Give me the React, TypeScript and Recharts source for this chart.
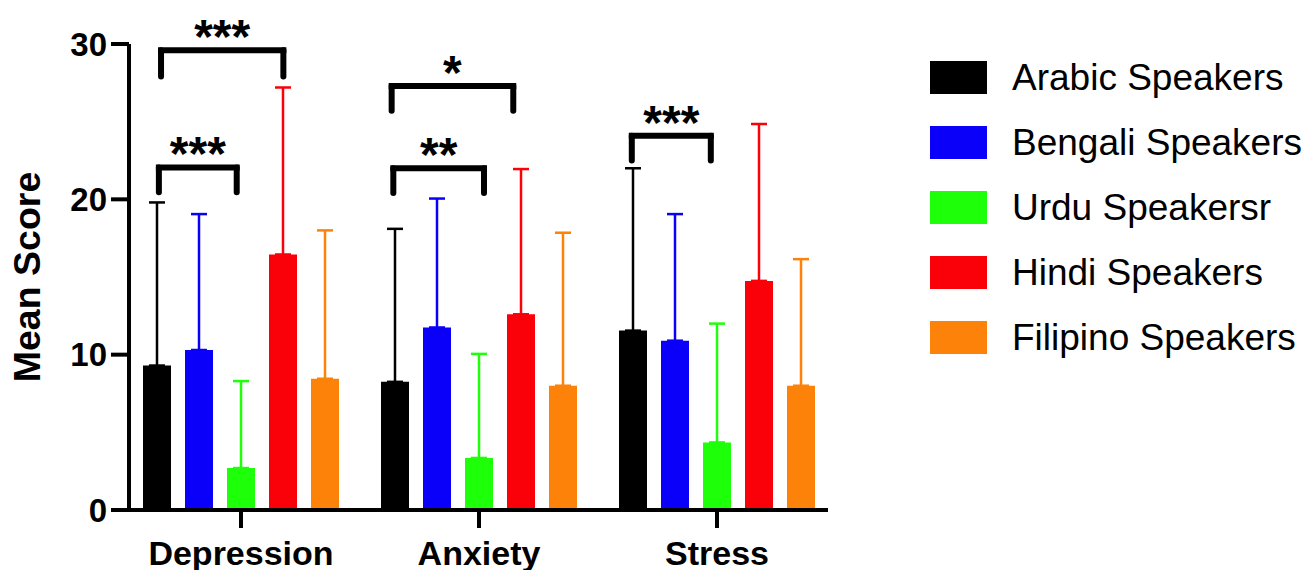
import { Bar, BarChart, ErrorBar, Legend, ReferenceDot, ReferenceLine, XAxis, YAxis } from "recharts";

const categories = ["Depression", "Anxiety", "Stress"];
const groups = ["Arabic Speakers", "Bengali Speakers", "Urdu Speakersr", "Hindi Speakers", "Filipino Speakers"];
const colors = ["#000000", "#0a00fa", "#1eff0a", "#fa0008", "#fc820a"];

// mean score and upper SD per group, in category order
const arabicMean = [9.3, 8.25, 11.55];
const arabicSd = [10.5, 9.85, 10.45];
const bengaliMean = [10.3, 11.75, 10.9];
const bengaliSd = [8.75, 8.3, 8.15];
const urduMean = [2.7, 3.35, 4.35];
const urduSd = [5.6, 6.7, 7.65];
const hindiMean = [16.45, 12.6, 14.75];
const hindiSd = [10.75, 9.35, 10.1];
const filipinoMean = [8.45, 8.0, 8.0];
const filipinoSd = [9.55, 9.85, 8.15];

const yTicks = [0, 10, 20, 30];

// significance brackets; x in category units (0 = Depression centre)
const bracketFrom = [-0.336, -0.345, 0.633, 0.64, 1.642];
const bracketTo = [0.178, -0.018, 1.144, 1.021, 1.974];
const bracketTop = [29.6, 22.05, 27.3, 22.0, 24.1];
const bracketFoot = [27.9, 20.45, 25.7, 20.4, 22.5];
const bracketLabel = ["***", "***", "*", "**", "***"];

const means = [arabicMean, bengaliMean, urduMean, hindiMean, filipinoMean];
const sds = [arabicSd, bengaliSd, urduSd, hindiSd, filipinoSd];

const data = categories.map((cat, i) => {
  const row: Record<string, unknown> = { cat, idx: i };
  means.forEach((m, k) => {
    row[`m${k}`] = m[i];
    row[`e${k}`] = [0, sds[k][i]];
  });
  return row;
});

const FONT = "'Liberation Sans', Arial, sans-serif";

function LegendBox() {
  return (
    <div style={{ fontFamily: FONT }}>
      {groups.map((g, k) => (
        <div key={g} style={{ display: "flex", alignItems: "center", height: 65 }}>
          <div style={{ width: 57, height: 33, background: colors[k], flex: "none" }} />
          <span style={{ marginLeft: 25, fontSize: 37, color: "#000", whiteSpace: "nowrap" }}>{g}</span>
        </div>
      ))}
    </div>
  );
}

export default function App() {
  return (
    <div>
      <style>{"body{margin:0;background:#fff}"}</style>
      <BarChart
        width={1307}
        height={570}
        data={data}
        margin={{ top: 44, right: 479, bottom: 0, left: 0 }}
        barGap={14}
      >
        <XAxis
          dataKey="cat"
          interval={0}
          height={60}
          padding={{ left: -7, right: -8 }}
          tickSize={18}
          tickMargin={13}
          axisLine={{ stroke: "#000", strokeWidth: 4 }}
          tickLine={{ stroke: "#000", strokeWidth: 4 }}
          tick={{ fill: "#000", fontSize: 34, fontWeight: 700, fontFamily: FONT }}
        />
        <XAxis
          xAxisId="pos"
          dataKey="idx"
          type="number"
          domain={[-0.5, 2.5]}
          allowDataOverflow
          padding={{ left: -7, right: -8 }}
          hide
        />
        <YAxis
          domain={[0, 30]}
          ticks={yTicks}
          width={129}
          tickSize={18}
          tickMargin={4}
          axisLine={{ stroke: "#000", strokeWidth: 4 }}
          tickLine={{ stroke: "#000", strokeWidth: 4 }}
          tick={{ fill: "#000", fontSize: 33, fontWeight: 700, fontFamily: FONT }}
          label={{
            value: "Mean Score",
            angle: -90,
            position: "center",
            dx: -38,
            style: { fill: "#000", fontSize: 37.5, fontWeight: 700, fontFamily: FONT },
          }}
        />
        {groups.map((g, k) => (
          <Bar key={g} dataKey={`m${k}`} name={g} fill={colors[k]} barSize={28} isAnimationActive={false}>
            <ErrorBar dataKey={`e${k}`} width={8} stroke={colors[k]} strokeWidth={2.5} isAnimationActive={false} />
          </Bar>
        ))}
        {bracketLabel.map((lab, b) => [
          <ReferenceLine
            key={`l${b}`}
            xAxisId="pos"
            segment={[{ x: bracketFrom[b], y: bracketFoot[b] }, { x: bracketFrom[b], y: bracketTop[b] }]}
            stroke="#000"
            strokeWidth={6}
            strokeLinecap="round"
          />,
          <ReferenceLine
            key={`r${b}`}
            xAxisId="pos"
            segment={[{ x: bracketTo[b], y: bracketFoot[b] }, { x: bracketTo[b], y: bracketTop[b] }]}
            stroke="#000"
            strokeWidth={6}
            strokeLinecap="round"
          />,
          <ReferenceLine
            key={`h${b}`}
            xAxisId="pos"
            segment={[{ x: bracketFrom[b], y: bracketTop[b] }, { x: bracketTo[b], y: bracketTop[b] }]}
            stroke="#000"
            strokeWidth={6}
            strokeLinecap="square"
          />,
          <ReferenceDot
            key={`t${b}`}
            xAxisId="pos"
            x={(bracketFrom[b] + bracketTo[b]) / 2}
            y={bracketTop[b]}
            r={0}
            shape={(p: { cx: number; cy: number }) => (
              <text
                x={p.cx}
                y={p.cy + 3}
                textAnchor="middle"
                fontSize={48}
                fontWeight={700}
                fontFamily={FONT}
                fill="#000"
              >
                {lab}
              </text>
            )}
          />,
        ])}
        <Legend
          layout="horizontal"
          verticalAlign="middle"
          align="center"
          wrapperStyle={{ left: 930, top: 45, width: 377, height: 330 }}
          content={() => <LegendBox />}
        />
      </BarChart>
    </div>
  );
}
